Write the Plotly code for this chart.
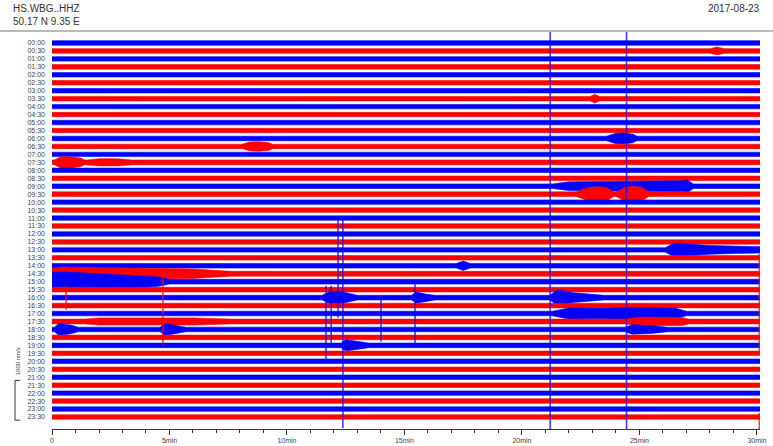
import plotly.graph_objects as go

# ---------------- data ----------------
row_labels = ["00:00", "00:30", "01:00", "01:30", "02:00", "02:30", "03:00", "03:30",
              "04:00", "04:30", "05:00", "05:30", "06:00", "06:30", "07:00", "07:30",
              "08:00", "08:30", "09:00", "09:30", "10:00", "10:30", "11:00", "11:30",
              "12:00", "12:30", "13:00", "13:30", "14:00", "14:30", "15:00", "15:30",
              "16:00", "16:30", "17:00", "17:30", "18:00", "18:30", "19:00", "19:30",
              "20:00", "20:30", "21:00", "21:30", "22:00", "22:30", "23:00", "23:30"]
row_colors = ["#0000ff", "#ff0000"]  # alternating trace colours

x_tick_vals = [0, 5, 10, 15, 20, 25, 30]
x_tick_text = ["0", "5min", "10min", "15min", "20min", "25min", "30min"]
trace_end_min = 30.13

# background noise half-width of each row (in units of row spacing)
noise_level = [0.29, 0.29, 0.28, 0.29, 0.28, 0.28, 0.28, 0.29,
               0.28, 0.28, 0.29, 0.28, 0.29, 0.28, 0.28, 0.30,
               0.28, 0.28, 0.29, 0.29, 0.28, 0.28, 0.28, 0.28,
               0.28, 0.28, 0.28, 0.28, 0.29, 0.30, 0.30, 0.29,
               0.29, 0.29, 0.29, 0.30, 0.29, 0.29, 0.29, 0.28,
               0.29, 0.28, 0.28, 0.28, 0.28, 0.28, 0.28, 0.28]

# signal envelopes: row index, minutes, half-width (row units)
event_rows = [1, 7, 12, 13, 15, 15, 18, 19, 19, 26, 28, 29, 30, 32, 32, 32, 32,
              34, 35, 35, 36, 36, 38, 36]
event_times = [
    [28.0, 28.3, 28.6],
    [22.9, 23.1, 23.3],
    [23.6, 24.0, 24.3, 24.7, 24.9],
    [8.1, 8.4, 8.8, 9.2, 9.4],
    [0.1, 0.4, 0.8, 1.2, 1.4],
    [1.5, 2.0, 2.8, 3.4],
    [21.3, 22.0, 23.5, 25.0, 26.0, 26.9, 27.0, 27.3],
    [22.3, 22.8, 23.2, 23.6, 23.9],
    [24.0, 24.4, 24.8, 25.1, 25.4],
    [26.1, 26.5, 27.0, 28.0, 29.0, 30.13],
    [17.2, 17.5, 17.8],
    [0.0, 0.5, 2.0, 4.0, 6.0, 7.6],
    [0.0, 0.5, 1.5, 3.0, 4.5, 5.0],
    [21.2, 21.5, 22.2, 23.0],
    [11.5, 11.8, 12.2, 12.7, 13.0],
    [15.3, 15.5, 15.9, 16.3],
    [21.2, 21.5, 22.2, 23.5],
    [21.3, 22.0, 23.5, 24.5, 25.5, 26.5, 27.0],
    [1.4, 2.0, 4.0, 6.0, 7.6],
    [24.4, 25.0, 26.0, 26.8, 27.1],
    [0.1, 0.3, 0.8, 1.1],
    [4.6, 4.8, 5.3, 5.7],
    [12.3, 12.5, 13.0, 13.5],
    [24.4, 24.7, 25.5, 26.2],
]
event_amps = [
    [0.29, 0.50, 0.29],
    [0.28, 0.55, 0.28],
    [0.29, 0.65, 0.70, 0.55, 0.29],
    [0.28, 0.55, 0.60, 0.50, 0.28],
    [0.30, 0.75, 0.70, 0.55, 0.30],
    [0.30, 0.45, 0.45, 0.30],
    [0.29, 0.55, 0.60, 0.60, 0.65, 0.70, 0.85, 0.29],
    [0.29, 0.80, 0.95, 0.85, 0.29],
    [0.29, 0.90, 1.00, 0.85, 0.29],
    [0.28, 0.90, 0.75, 0.55, 0.45, 0.40],
    [0.28, 0.60, 0.28],
    [0.70, 0.85, 0.80, 0.70, 0.60, 0.30],
    [1.20, 1.25, 1.10, 0.90, 0.60, 0.30],
    [0.29, 0.70, 0.45, 0.29],
    [0.29, 0.75, 0.80, 0.50, 0.29],
    [0.29, 0.70, 0.45, 0.29],
    [0.29, 1.00, 0.60, 0.29],
    [0.29, 0.70, 0.65, 0.75, 0.75, 0.70, 0.29],
    [0.30, 0.45, 0.45, 0.45, 0.30],
    [0.30, 0.55, 0.55, 0.50, 0.30],
    [0.29, 0.75, 0.55, 0.29],
    [0.29, 0.75, 0.50, 0.29],
    [0.29, 0.70, 0.45, 0.29],
    [0.29, 0.60, 0.50, 0.29],
]

# large transients drawn as vertical strokes: minute, top (row units), bottom, colour
spike_times = [21.2, 24.45, 12.38, 12.17, 11.66, 11.88, 4.72, 0.6, 15.45, 14.0, 30.1, 30.1]
spike_tops = [1.4, 1.4, -22.0, -22.0, -30.5, -30.5, -29.5, -30.5, -30.0, -32.0, -26.5, -46.5]
spike_bots = [-48.5, -48.5, -48.4, -34.5, -40.0, -38.0, -38.0, -33.5, -38.0, -37.5, -39.0, -48.5]
spike_colors = ["#0000ff", "#0000ff", "#0000ff", "#0000ff", "#0000ff", "#0000ff",
                "#ff0000", "#ff0000", "#0000ff", "#0000ff", "#ff0000", "#ff0000"]

# ---------------- build figure ----------------
fig = go.Figure()

n_rows = len(row_labels)
for r in range(n_rows):
    base = noise_level[r]
    xs = [0.0]
    amps = [base]
    evs = sorted([(event_times[k], event_amps[k]) for k in range(len(event_rows)) if event_rows[k] == r],
                 key=lambda e: e[0][0])
    for tt, aa in evs:
        xs.extend(tt)
        amps.extend(aa)
    xs.append(trace_end_min)
    amps.append(base)
    up = [-r + a for a in amps]
    lo = [-r - a for a in amps]
    col = row_colors[r % 2]
    fig.add_trace(go.Scatter(x=xs + xs[::-1], y=up + lo[::-1], mode="lines", fill="toself",
                             fillcolor=col, line=dict(color=col, width=0.6),
                             hoverinfo="skip", showlegend=False))

for t, y0, y1, c in zip(spike_times, spike_tops, spike_bots, spike_colors):
    fig.add_trace(go.Scatter(x=[t, t], y=[y0, y1], mode="lines",
                             line=dict(color=c, width=1.6), opacity=0.75,
                             hoverinfo="skip", showlegend=False))

label_font = dict(family="Liberation Sans, Arial, sans-serif", size=7, color="#444444")

fig.update_layout(
    width=773, height=446,
    margin=dict(l=52, r=13, t=32, b=17),
    paper_bgcolor="white", plot_bgcolor="white",
    xaxis=dict(range=[0, trace_end_min], tickvals=x_tick_vals, ticktext=x_tick_text,
               showgrid=False, zeroline=False, showline=True, linecolor="#333333",
               linewidth=1, ticks="outside", ticklen=5, tickcolor="#333333",
               tickfont=label_font, automargin=False,
               minor=dict(dtick=1, ticks="outside", ticklen=3, tickcolor="#333333")),
    yaxis=dict(range=[-48.51, 1.38], tickvals=[-i for i in range(n_rows)], ticktext=row_labels,
               showgrid=False, zeroline=False, showline=False, ticks="",
               ticklabelstandoff=6, tickfont=label_font, automargin=False),
    font=dict(family="Liberation Sans, Arial, sans-serif"),
    shapes=[
        dict(type="line", xref="paper", yref="paper", x0=-52 / 708, x1=721 / 708,
             y0=1 + 1 / 397, y1=1 + 1 / 397, line=dict(color="#777777", width=1)),
        dict(type="path", xref="paper", yref="y",
             path="M %f,%f L %f,%f L %f,%f L %f,%f" % (-32 / 708, -42.4, -37 / 708, -42.4,
                                                       -37 / 708, -47.4, -32 / 708, -47.4),
             line=dict(color="#333333", width=1)),
    ],
    annotations=[
        dict(text="HS.WBG..HHZ", xref="paper", yref="paper", x=-41 / 708, y=1 + 23 / 397,
             xanchor="left", yanchor="middle", showarrow=False,
             font=dict(size=10, color="#333333")),
        dict(text="50.17 N 9.35 E", xref="paper", yref="paper", x=-41 / 708, y=1 + 11 / 397,
             xanchor="left", yanchor="middle", showarrow=False,
             font=dict(size=10, color="#333333")),
        dict(text="2017-08-23", xref="paper", yref="paper", x=1 + 2 / 708, y=1 + 23 / 397,
             xanchor="right", yanchor="middle", showarrow=False,
             font=dict(size=10, color="#333333")),
        dict(text="1000 nm/s", xref="paper", yref="y", x=-34 / 708, y=-40.0,
             xanchor="center", yanchor="middle", textangle=-90, showarrow=False,
             font=dict(size=6, color="#444444")),
    ],
)

fig.write_html("out.html")
